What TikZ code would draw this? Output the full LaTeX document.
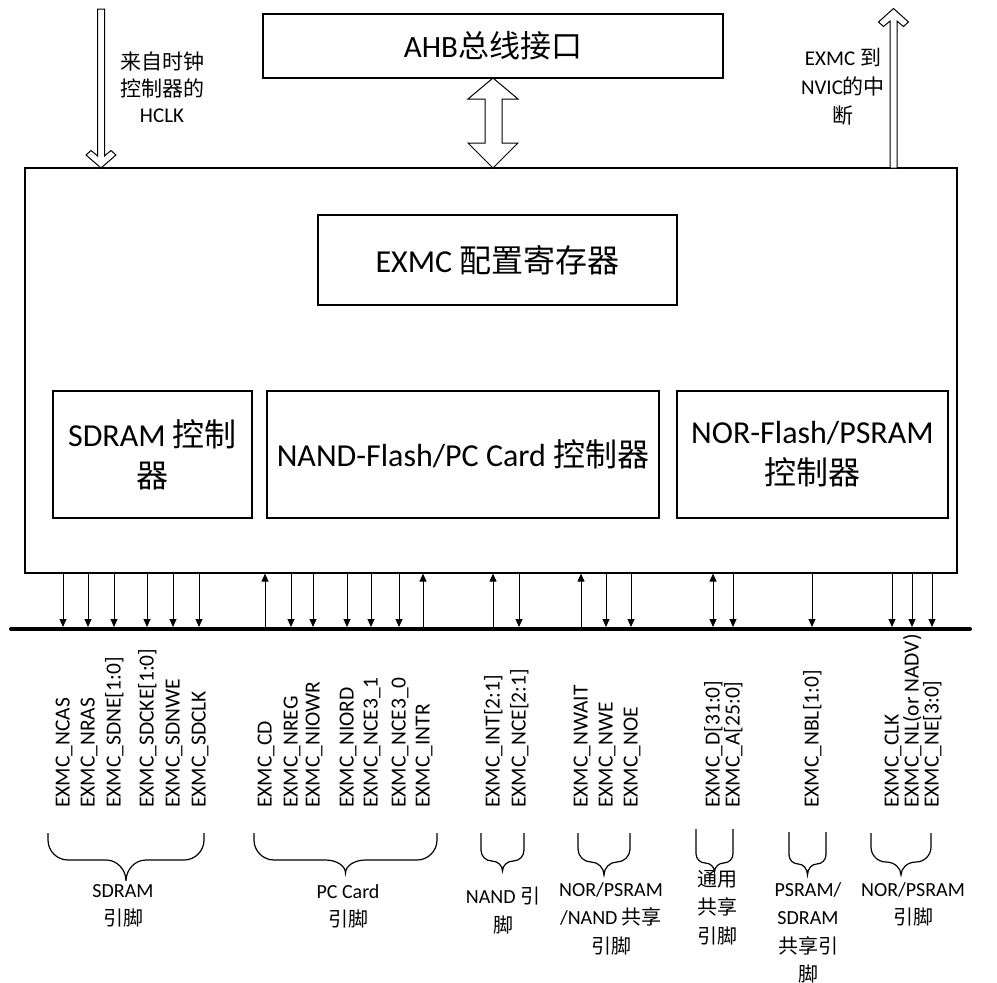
\documentclass[tikz,border=0pt]{standalone}
\usepackage{fontspec}
\setmainfont{Carlito}
\newfontfamily\cjkf{Noto Sans CJK SC}
\newcommand\zh[1]{{\cjkf #1}}
\usetikzlibrary{arrows.meta}
\newcommand\mybrace[6]{% name xl xr yt ym yb
  \pgfmathsetmacro\bxc{(#2+#3)/2}
  \pgfmathsetmacro\brr{min(20,(#3-#2)/4)}
  \pgfmathsetmacro\bya{#5-\brr}
  \pgfmathsetmacro\byb{#5-0.45*\brr}
  \pgfmathsetmacro\byc{#5+0.45*(#6-#5)}
  \pgfmathsetmacro\bxa{#2+0.45*\brr}
  \pgfmathsetmacro\bxb{#2+\brr}
  \pgfmathsetmacro\bxd{\bxc-\brr}
  \pgfmathsetmacro\bxe{\bxc-0.45*\brr}
  \pgfmathsetmacro\bxf{\bxc+0.45*\brr}
  \pgfmathsetmacro\bxg{\bxc+\brr}
  \pgfmathsetmacro\bxh{#3-\brr}
  \pgfmathsetmacro\bxi{#3-0.45*\brr}
  \draw[bracestyle] (#2,#4) coordinate (#1L) -- (#2,\bya)
    .. controls (#2,\byb) and (\bxa,#5) .. (\bxb,#5)
    -- (\bxd,#5)
    .. controls (\bxe,#5) and (\bxc,\byc) .. (\bxc,#6) coordinate (#1)
    .. controls (\bxc,\byc) and (\bxf,#5) .. (\bxg,#5)
    -- (\bxh,#5)
    .. controls (\bxi,#5) and (#3,\byb) .. (#3,\bya)
    -- (#3,#4) coordinate (#1R);
}
\begin{document}
\begin{tikzpicture}[x=1pt,y=-1pt,
  box/.style={draw=black, line width=1.2pt, inner sep=0pt, align=center},
  sigline/.style={line width=1pt},
  sigdn/.style={sigline, -{Triangle[length=8pt,width=7pt]}},
  sigup/.style={sigline, {Triangle[length=8pt,width=7pt]}-},
  sigbo/.style={sigline, {Triangle[length=8pt,width=7pt]}-{Triangle[length=8pt,width=7pt]}},
  lbl/.style={rotate=90, anchor=base west, inner sep=0pt, font=\fontsize{21.5}{24}\selectfont},
  grp/.style={anchor=north, align=center, inner sep=0pt, font=\fontsize{20}{28.5}\selectfont},
  hollow/.style={draw=black, fill=white, line width=1pt, line join=miter},
  bracestyle/.style={line width=1.2pt},
  bigtxt/.style={font=\fontsize{32}{41}\selectfont}]
\useasboundingbox (0,0) rectangle (997,983);

% main blocks
\node[box, minimum width=932pt, minimum height=405pt] (main) at (491,370.5) {};
\node[box, minimum width=460pt, minimum height=64pt, font=\fontsize{31}{38}\selectfont] (ahb) at (493,46) {AHB\zh{总线接口}};
\node[box, bigtxt, minimum width=359pt, minimum height=90pt] (cfg) at (497.5,260) {EXMC \zh{配置寄存器}};
\node[box, bigtxt, minimum width=199pt, minimum height=127pt] (sdram) at (152.5,454.5) {SDRAM \zh{控制}\\\zh{器}};
\node[box, bigtxt, minimum width=392pt, minimum height=127pt] (nand) at (463,454.5) {NAND-Flash/PC Card \zh{控制器}};
\node[box, bigtxt, minimum width=271pt, minimum height=127pt] (nor) at (812.5,454.5) {NOR-Flash/PSRAM\\\zh{控制器}};

% hollow arrows
\draw[hollow] (97.5,9) -- (97.5,155.9) -- (91,150.5) -- (86,155) -- (101,168) -- (116,155) -- (111,150.5) -- (104.5,155.9) -- (104.5,9) -- cycle;
\draw[hollow] (890,168) -- (890,21.1) -- (883.5,26.5) -- (878.5,22) -- (893.5,8.5) -- (908.5,22) -- (903.5,26.5) -- (897,21.1) -- (897,168) -- cycle;
\draw[hollow] (493,78) -- (518,99) -- (502,99) -- (502,143) -- (518,143) -- (493,168) -- (468,143) -- (485,143) -- (485,99) -- (468,99) -- cycle;

% side texts
\node[anchor=north, align=center, inner sep=0pt, font=\fontsize{21}{26.5}\selectfont] (hclk) at (162,52) {\zh{来自时钟}\\\zh{控制器的}\\HCLK};
\node[anchor=north, align=center, inner sep=0pt, font=\fontsize{21}{29}\selectfont] (nvic) at (843,48) {EXMC \zh{到}\\NVIC\zh{的中}\\\zh{断}};

% bus
\coordinate (busL) at (11,629);
\coordinate (busR) at (970,629);
\draw[line width=4pt, line cap=round] (busL) -- (busR);

% signals
\foreach \x/\d/\t [count=\i] in {
  63/dn/EXMC\_NCAS, 88/dn/EXMC\_NRAS, 114/dn/EXMC\_SDNE[1:0], 147/dn/EXMC\_SDCKE[1:0],
  173/dn/EXMC\_SDNWE, 199/dn/EXMC\_SDCLK,
  265/up/EXMC\_CD, 291/dn/EXMC\_NREG, 313/dn/EXMC\_NIOWR, 347/dn/EXMC\_NIORD,
  371/dn/EXMC\_NCE3\_1, 399/dn/EXMC\_NCE3\_0, 423/up/EXMC\_INTR,
  493/up/EXMC\_INT[2:1], 519/dn/EXMC\_NCE[2:1],
  581/up/EXMC\_NWAIT, 606/dn/EXMC\_NWE, 631/dn/EXMC\_NOE,
  713/bo/EXMC\_D[31:0], 733/dn/EXMC\_A[25:0],
  812/dn/EXMC\_NBL[1:0],
  892/dn/EXMC\_CLK, 912/dn/EXMC\_NL(or NADV), 932/dn/EXMC\_NE[3:0]} {
  \coordinate (st\i) at (\x,573.6);
  \coordinate (sb\i) at (\x,627);
  \draw[sig\d] (st\i) -- (sb\i);
  \node[lbl] (lab\i) at (\x+6.5,808) {\t};
}

% braces
\mybrace{bSD}{48}{204}{833}{860}{881}
\mybrace{bPC}{254}{437}{833}{860}{873}
\mybrace{bNA}{481}{524}{833}{861}{871}
\mybrace{bSH}{578}{630}{833}{862}{875}
\mybrace{bGE}{696}{733}{829}{863}{872}
\mybrace{bPS}{789}{826}{832}{864}{875}
\mybrace{bNO}{871}{931}{833}{862}{875}

% group labels
\node[grp] (gSD) at (123,884) {SDRAM\\\zh{引脚}};
\node[grp] (gPC) at (348,884) {PC Card\\\zh{引脚}};
\node[grp] (gNA) at (503,887) {NAND \zh{引}\\\zh{脚}};
\node[grp] (gSH) at (611,882) {NOR/PSRAM\\/NAND \zh{共享}\\\zh{引脚}};
\node[grp] (gGE) at (717,870) {\zh{通用}\\\zh{共享}\\\zh{引脚}};
\node[grp] (gPS) at (808,882) {PSRAM/\\SDRAM\\\zh{共享引}\\\zh{脚}};
\node[grp] (gNO) at (913,882) {NOR/PSRAM\\\zh{引脚}};
\end{tikzpicture}
\end{document}
